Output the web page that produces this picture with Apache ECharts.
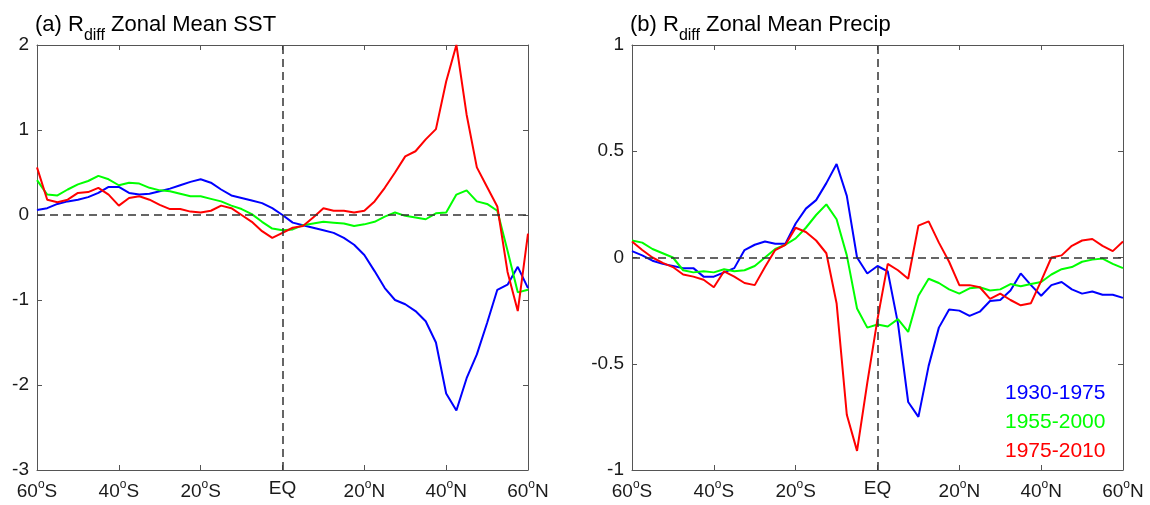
<!DOCTYPE html>
<html>
<head>
<meta charset="utf-8">
<script src="https://cdn.jsdelivr.net/npm/echarts@6/dist/echarts.min.js"></script>
<style>
html,body{margin:0;padding:0;background:#fff;}
#chart{width:1150px;height:505px;}
</style>
</head>
<body>
<div id="chart"></div>
<script>
// Latitudes (degrees, negative = south)
const lat = [-60,-57.5,-55,-52.5,-50,-47.5,-45,-42.5,-40,-37.5,-35,-32.5,-30,-27.5,-25,-22.5,-20,-17.5,-15,-12.5,-10,-7.5,-5,-2.5,0,
  2.5,5,7.5,10,12.5,15,17.5,20,22.5,25,27.5,30,32.5,35,37.5,40,42.5,45,47.5,50,52.5,55,57.5,60];

const periods = ['1930-1975','1955-2000','1975-2010'];
const colors = ['#0000ff','#00ff00','#ff0000'];

// (a) Zonal mean SST
const sst1930 = [0.06,0.08,0.13,0.16,0.18,0.21,0.26,0.33,0.33,0.26,0.24,0.25,0.28,0.31,0.35,0.39,0.42,0.38,0.30,0.23,0.20,0.17,0.14,0.08,0.0,
  -0.09,-0.12,-0.15,-0.18,-0.21,-0.27,-0.35,-0.47,-0.66,-0.86,-1.0,-1.05,-1.13,-1.25,-1.5,-2.1,-2.3,-1.92,-1.64,-1.27,-0.88,-0.82,-0.61,-0.86];
const sst1955 = [0.41,0.24,0.23,0.30,0.36,0.40,0.46,0.42,0.35,0.38,0.37,0.32,0.29,0.28,0.25,0.22,0.22,0.19,0.16,0.11,0.07,0.01,-0.08,-0.16,-0.18,
  -0.17,-0.12,-0.10,-0.08,-0.09,-0.10,-0.13,-0.11,-0.08,-0.02,0.03,-0.01,-0.03,-0.05,0.02,0.03,0.24,0.29,0.16,0.13,0.05,-0.42,-0.91,-0.88];
const sst1975 = [0.56,0.18,0.15,0.18,0.26,0.27,0.32,0.24,0.11,0.20,0.22,0.18,0.12,0.07,0.07,0.04,0.03,0.05,0.11,0.08,0.0,-0.08,-0.19,-0.27,-0.21,
  -0.15,-0.13,-0.03,0.08,0.05,0.05,0.03,0.05,0.16,0.32,0.50,0.69,0.75,0.89,1.01,1.57,2.0,1.18,0.56,0.33,0.10,-0.67,-1.13,-0.22];

// (b) Zonal mean precipitation
const pr1930 = [0.03,0.01,-0.015,-0.03,-0.04,-0.05,-0.05,-0.09,-0.09,-0.07,-0.05,0.035,0.06,0.075,0.065,0.065,0.16,0.23,0.27,0.35,0.44,0.29,0.0,-0.075,-0.04,
  -0.065,-0.31,-0.68,-0.75,-0.51,-0.33,-0.245,-0.25,-0.275,-0.255,-0.205,-0.2,-0.155,-0.075,-0.13,-0.18,-0.13,-0.115,-0.15,-0.17,-0.16,-0.175,-0.175,-0.19];
const pr1955 = [0.08,0.07,0.04,0.02,0.0,-0.06,-0.07,-0.065,-0.07,-0.055,-0.065,-0.06,-0.04,0.0,0.04,0.06,0.09,0.14,0.20,0.25,0.18,0.01,-0.24,-0.33,-0.315,
  -0.325,-0.29,-0.35,-0.18,-0.10,-0.12,-0.15,-0.17,-0.145,-0.14,-0.155,-0.15,-0.125,-0.135,-0.125,-0.115,-0.08,-0.055,-0.045,-0.02,-0.01,-0.005,-0.03,-0.05];
const pr1975 = [0.075,0.035,0.0,-0.025,-0.045,-0.08,-0.09,-0.105,-0.14,-0.065,-0.09,-0.12,-0.13,-0.045,0.035,0.06,0.14,0.12,0.08,0.02,-0.215,-0.74,-0.91,-0.59,-0.29,
  -0.03,-0.06,-0.10,0.15,0.17,0.07,-0.02,-0.13,-0.13,-0.14,-0.195,-0.17,-0.20,-0.225,-0.215,-0.11,0.0,0.01,0.055,0.08,0.087,0.055,0.03,0.075];

const FONT = "'Liberation Sans', Arial, Helvetica, sans-serif";
const AX = '#555';
const TXT = '#1a1a1a';

function latLabel(v){
  if (v === 0) return '{e|EQ}';
  return '{n|' + Math.abs(v) + '}{s|o}{n|' + (v < 0 ? 'S' : 'N') + '}';
}

const pairs = ys => lat.map((x,i) => [x, ys[i]]);

const grids = [
  {left:37, top:45, width:491, height:425},
  {left:632, top:45, width:491, height:425}
];

const xAxes = [], yAxes = [];
[0,1].forEach(g => {
  xAxes.push({
    gridIndex:g, type:'value', min:-60, max:60, interval:20, position:'bottom',
    axisLine:{show:true, onZero:false, lineStyle:{color:AX, width:1}},
    axisTick:{show:true, inside:true, length:5, lineStyle:{color:AX}},
    splitLine:{show:false},
    axisLabel:{
      margin:9, color:TXT, fontFamily:FONT, fontSize:19,
      formatter:latLabel,
      rich:{
        n:{fontSize:19, lineHeight:26, color:TXT, fontFamily:FONT},
        s:{fontSize:12, lineHeight:8, verticalAlign:'top', color:TXT, fontFamily:FONT},
        e:{fontSize:19, lineHeight:12, verticalAlign:'top', color:TXT, fontFamily:FONT}
      }
    }
  });
  xAxes.push({
    gridIndex:g, type:'value', min:-60, max:60, interval:20, position:'top',
    axisLine:{show:true, onZero:false, lineStyle:{color:AX, width:1}},
    axisTick:{show:true, inside:true, length:5, lineStyle:{color:AX}},
    axisLabel:{show:false}, splitLine:{show:false}
  });
});
const yRanges = [{min:-3,max:2,interval:1},{min:-1,max:1,interval:0.5}];
[0,1].forEach(g => {
  yAxes.push(Object.assign({
    gridIndex:g, type:'value', position:'left',
    axisLine:{show:true, onZero:false, lineStyle:{color:AX, width:1}},
    axisTick:{show:true, inside:true, length:5, lineStyle:{color:AX}},
    splitLine:{show:false},
    axisLabel:{margin:8, color:TXT, fontFamily:FONT, fontSize:19}
  }, yRanges[g]));
  yAxes.push(Object.assign({
    gridIndex:g, type:'value', position:'right',
    axisLine:{show:true, onZero:false, lineStyle:{color:AX, width:1}},
    axisTick:{show:true, inside:true, length:5, lineStyle:{color:AX}},
    splitLine:{show:false},
    axisLabel:{show:false}
  }, yRanges[g]));
});

const zeroLines = {
  silent:true, symbol:['none','none'], animation:false,
  label:{show:false},
  lineStyle:{type:[8,5], color:'#333', width:1.5},
  data:[{yAxis:0},{xAxis:0}]
};

const panelData = [[sst1930, sst1955, sst1975],[pr1930, pr1955, pr1975]];
const series = [];
[0,1].forEach(g => {
  panelData[g].forEach((ys, k) => {
    const s = {
      name:periods[k], type:'line', xAxisIndex:g*2, yAxisIndex:g*2,
      data:pairs(ys), symbol:'none', smooth:false,
      lineStyle:{color:colors[k], width:2}, itemStyle:{color:colors[k]}
    };
    if (k === 2) s.markLine = zeroLines;
    series.push(s);
  });
});

function titleOf(prefix, rest, left){
  return {
    left:left, top:14, padding:0,
    text:'{m|' + prefix + ' R}{sub|diff}{m| ' + rest + '}',
    textStyle:{
      fontSize:22, fontWeight:'normal', color:'#000', fontFamily:FONT,
      rich:{
        m:{fontSize:22, verticalAlign:'top', color:'#000', fontFamily:FONT},
        sub:{fontSize:16, lineHeight:30, verticalAlign:'bottom', color:'#000', fontFamily:FONT}
      }
    }
  };
}

const option = {
  animation:false,
  backgroundColor:'#fff',
  title:[titleOf('(a)','Zonal Mean SST',35), titleOf('(b)','Zonal Mean Precip',630)],
  legend:{
    orient:'vertical', left:1000, top:383, padding:0, itemGap:8,
    itemWidth:0, itemHeight:21, icon:'rect', selectedMode:false,
    textStyle:{fontSize:21, fontFamily:FONT},
    data:periods.map((p,k) => ({name:p, textStyle:{color:colors[k]}}))
  },
  grid:grids,
  xAxis:xAxes,
  yAxis:yAxes,
  series:series
};

const chart = echarts.init(document.getElementById('chart'), null, {renderer:'canvas'});
chart.setOption(option);
</script>
</body>
</html>
